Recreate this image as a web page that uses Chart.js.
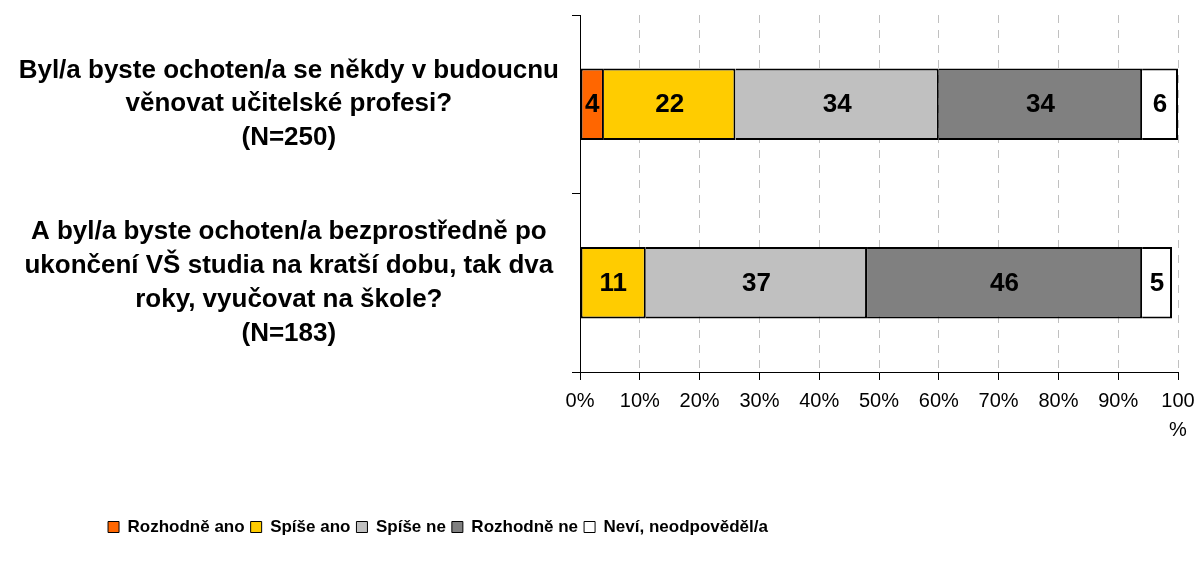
<!DOCTYPE html>
<html>
<head>
<meta charset="utf-8">
<script src="https://cdn.jsdelivr.net/npm/chart.js@4"></script>
<style>
  body { margin: 0; background: #fff; }
  #wrap { width: 1200px; height: 562px; }
</style>
</head>
<body>
<div id="wrap"><canvas id="graf"></canvas></div>
<script>
// Otázky (kategorie)
const otazky = [
    ['Byl/a byste ochoten/a se někdy v budoucnu', 'věnovat učitelské profesi?', '(N=250)'],
    ['A byl/a byste ochoten/a bezprostředně po', 'ukončení VŠ studia na kratší dobu, tak dva', 'roky, vyučovat na škole?', '(N=183)']
];

// Odpovědi v %
const rozhodneAno = [4, 0];
const spiseAno = [22, 11];
const spiseNe = [34, 37];
const rozhodneNe = [34, 46];
const nevi = [6, 5];

// Popisky osy x
const osaX = [0, 10, 20, 30, 40, 50, 60, 70, 80, 90, 100];

const pismo = '"Liberation Sans", Arial, sans-serif';

// hodnoty uvnitř pruhů
const hodnoty = {
    id: 'hodnoty',
    afterDatasetsDraw(chart) {
        const ctx = chart.ctx;
        ctx.save();
        ctx.font = 'bold 26px ' + pismo;
        ctx.fillStyle = '#000';
        ctx.textAlign = 'center';
        ctx.textBaseline = 'middle';
        chart.data.datasets.forEach((ds, i) => {
            chart.getDatasetMeta(i).data.forEach((bar, j) => {
                const v = ds.data[j];
                if (!v) return;
                const p = bar.getCenterPoint();
                ctx.fillText(v, p.x, p.y + 1);
            });
        });
        ctx.restore();
    }
};

// legenda posunutá doleva jako v originále
const posunLegendy = {
    id: 'posunLegendy',
    afterLayout(chart) {
        chart.legend.left = 0;
        chart.legend.right = 876;
    }
};

// levý okraj jen u prvního nenulového dílu
const prvniDil = (ctx) => {
    const ds = ctx.chart.data.datasets;
    for (let k = 0; k < ctx.datasetIndex; k++) {
        if (ds[k].data[ctx.dataIndex]) return 'start';
    }
    return false;
};

const sada = (label, data, barva) => ({
    label: label,
    data: data,
    backgroundColor: barva,
    borderColor: '#000',
    borderWidth: 2,
    borderSkipped: prvniDil,
    barPercentage: 0.4,
    categoryPercentage: 1
});

new Chart(document.getElementById('graf'), {
    type: 'bar',
    data: {
        labels: otazky,
        datasets: [
            sada('Rozhodně ano', rozhodneAno, '#FF6600'),
            sada('Spíše ano', spiseAno, '#FFCC00'),
            sada('Spíše ne', spiseNe, '#C0C0C0'),
            sada('Rozhodně ne', rozhodneNe, '#808080'),
            sada('Neví, neodpověděl/a', nevi, '#FFFFFF')
        ]
    },
    options: {
        indexAxis: 'y',
        responsive: true,
        maintainAspectRatio: false,
        animation: false,
        layout: { padding: { top: 15, right: 22, bottom: 16.5, left: 0 } },
        scales: {
            x: {
                stacked: true,
                min: 0,
                max: 100,
                afterBuildTicks: (scale) => { scale.ticks = osaX.map(v => ({ value: v })); },
                afterFit: (scale) => {
                    scale.height = 140.5;
                    scale.paddingLeft = 0;
                    scale.paddingRight = 0;
                },
                grid: {
                    color: '#c0c0c0',
                    lineWidth: 1,
                    tickColor: '#000',
                    tickLength: 8,
                    tickBorderDash: []
                },
                border: { display: true, color: '#000', width: 1, dash: [8, 7] },
                ticks: {
                    color: '#000',
                    padding: 7,
                    maxRotation: 0,
                    autoSkip: false,
                    font: { family: pismo, size: 20, lineHeight: 1.45 },
                    callback: (v) => v === 100 ? ['100', '%'] : v + '%'
                }
            },
            y: {
                stacked: true,
                afterFit: (scale) => {
                    scale.width = 580;
                    scale.paddingTop = 0;
                    scale.paddingBottom = 0;
                },
                grid: {
                    offset: true,
                    drawOnChartArea: false,
                    tickColor: '#000',
                    tickLength: 8
                },
                border: { color: '#000', width: 1 },
                ticks: {
                    color: '#000',
                    crossAlign: 'center',
                    padding: 13,
                    font: { family: pismo, size: 26, weight: 'bold', lineHeight: 1.3 }
                }
            }
        },
        plugins: {
            legend: {
                position: 'bottom',
                labels: {
                    color: '#000',
                    boxWidth: 11,
                    boxHeight: 11,
                    padding: 6,
                    font: { family: pismo, size: 17, weight: 'bold' },
                    generateLabels: (chart) => Chart.defaults.plugins.legend.labels.generateLabels(chart)
                        .map(l => Object.assign(l, { lineWidth: 1 }))
                }
            },
            tooltip: { enabled: false }
        }
    },
    plugins: [hodnoty, posunLegendy]
});
</script>
</body>
</html>
